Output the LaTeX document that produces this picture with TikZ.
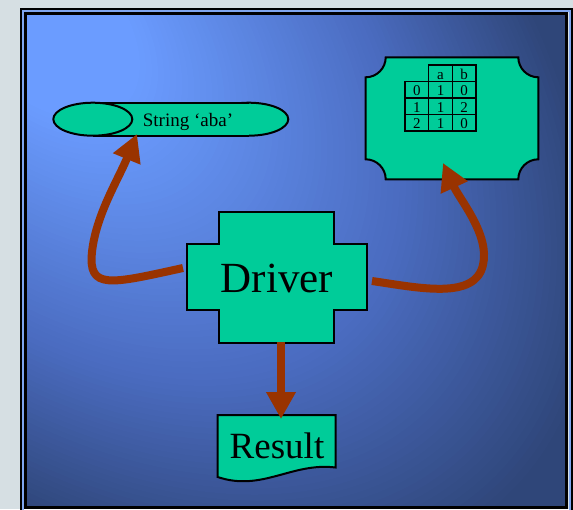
\documentclass[tikz,border=0pt]{standalone}
\usepackage{fontspec}
\setmainfont{Liberation Serif}
\usetikzlibrary{arrows.meta}

\definecolor{pagegray}{HTML}{D6DFE3}
\definecolor{panellight}{HTML}{6B9CFF}
\definecolor{panelmid}{HTML}{4A6BBF}
\definecolor{paneldark}{HTML}{2F4679}
\definecolor{rimblue}{HTML}{7FA6F0}
\definecolor{shapefill}{HTML}{00CC99}
\definecolor{arrowbrown}{HTML}{993300}

\tikzset{
  shapebox/.style={draw=black, line width=2pt, fill=shapefill, line join=miter},
  flow/.style={draw=arrowbrown, line width=8pt, line join=round,
               -{Triangle[length=27pt,width=28pt,fill=arrowbrown]}},
  gridline/.style={draw=black, line width=1.5pt},
  cell/.style={anchor=base, inner sep=0pt, font=\fontsize{15pt}{15pt}\selectfont},
}

\begin{document}
\begin{tikzpicture}[x=1pt,y=-1pt]
\useasboundingbox (0,0) rectangle (573,509);
\fill[pagegray] (0,0) rectangle (573,509);

% double frame
\draw[black, line width=2pt] (20.5,8.5) rectangle (571.5,515);
\draw[rimblue, line width=2pt] (22.5,10.5) rectangle (569.5,513);

% panel: glow stretched along the diagonal from the upper left corner
\begin{scope}
  \clip (27,15) rectangle (565,506);
  \fill[paneldark] (27,15) rectangle (565,506);
  \foreach \k in {100,...,0}{
    \pgfmathsetmacro\rad{5.6*\k+3}
    \pgfmathsetmacro\pa{max(0,min(100,(\k/100-0.16)/0.44*100))}
    \pgfmathsetmacro\pb{max(0,min(100,(\k/100-0.6)/0.32*100))}
    \colorlet{ringA}{panelmid!\pa!panellight}
    \colorlet{ringB}{paneldark!\pb!ringA}
    \fill[ringB, shift={(40,20)}, rotate=-45]
      (0,0) ellipse[x radius=1.3*\rad, y radius=0.8*\rad];
  }
\end{scope}
\draw[black, line width=3pt] (25.5,13.5) rectangle (566.5,507.5);

% string cylinder lying on its side
\fill[shapefill, draw=black, line width=2pt] (248.8,119.2) ellipse[x radius=39.5, y radius=16.5];
\fill[shapefill] (92.8,102.7) rectangle (248.8,135.7);
\draw[black, line width=2pt] (92.8,102.7) -- (248.8,102.7) (92.8,135.7) -- (248.8,135.7);
\fill[shapefill, draw=black, line width=2pt] (92.8,119.2) ellipse[x radius=39.5, y radius=16.5];
\node[anchor=base, inner sep=0pt, font=\fontsize{19pt}{19pt}\selectfont] (strtext) at (188,126) {String ‘aba’};
\coordinate (strtip) at (137,134);

% plaque holding the transition table
\path[shapebox]
  (385.7,57.3) -- (518.3,57.3)
  .. controls (518.3,68.3) and (527.3,77.3) .. (538.3,77.3)
  -- (538.3,159.3)
  .. controls (527.3,159.3) and (518.3,168.3) .. (518.3,179.3)
  -- (385.7,179.3)
  .. controls (385.7,168.3) and (376.7,159.3) .. (365.7,159.3)
  -- (365.7,77.3)
  .. controls (376.7,77.3) and (385.7,68.3) .. (385.7,57.3) -- cycle;
\coordinate (tabletip) at (443,163);

% transition table
\draw[gridline] (428.7,65) rectangle (476,131);
\draw[gridline] (405,81.5) rectangle (476,131);
\draw[gridline] (452.3,65) -- (452.3,131);
\draw[gridline] (405,98) -- (476,98) (405,114.5) -- (476,114.5);
\node[cell] (ha) at (440.5,79) {a};
\node[cell] (hb) at (464.1,79) {b};
\node[cell] (r0s) at (416.8,95.5) {0};
\node[cell] (r0a) at (440.5,95.5) {1};
\node[cell] (r0b) at (464.1,95.5) {0};
\node[cell] (r1s) at (416.8,112) {1};
\node[cell] (r1a) at (440.5,112) {1};
\node[cell] (r1b) at (464.1,112) {2};
\node[cell] (r2s) at (416.8,128.5) {2};
\node[cell] (r2a) at (440.5,128.5) {1};
\node[cell] (r2b) at (464.1,128.5) {0};

% driver cross
\path[shapebox]
  (219.3,212.3) -- (334,212.3) -- (334,244.3) -- (366.7,244.3) -- (366.7,310)
  -- (334,310) -- (334,342.7) -- (219.3,342.7) -- (219.3,310) -- (186.7,310)
  -- (186.7,244.3) -- (219.3,244.3) -- cycle;
\node[anchor=base, inner sep=0pt, font=\fontsize{43pt}{43pt}\selectfont] (driver) at (277,292.7) {Driver};
\coordinate (drvleft) at (183,268);
\coordinate (drvright) at (372,281);
\coordinate (drvbottom) at (281,342);

% result document
\path[shapebox]
  (217.7,415) -- (335.7,415) -- (335.7,467.5)
  .. controls (292,462) and (262,492) .. (217.7,477) -- cycle;
\node[anchor=base, inner sep=0pt, font=\fontsize{37pt}{37pt}\selectfont] (result) at (277,458.3) {Result};
\coordinate (restip) at (281,419);

% connectors
\draw[flow] (drvleft) .. controls (110,284) and (88,290) .. (92,252)
            .. controls (96,215) and (118,180) .. (strtip);
\draw[flow] (drvright) .. controls (420,288) and (475,300) .. (483,265)
            .. controls (490,235) and (460,200) .. (tabletip);
\draw[flow] (drvbottom) -- (restip);
\end{tikzpicture}
\end{document}
